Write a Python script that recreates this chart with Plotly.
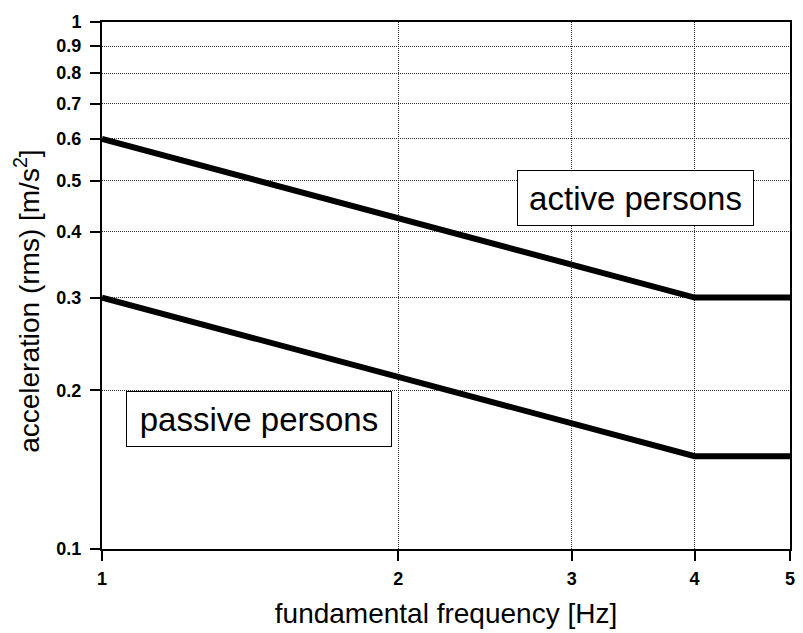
import plotly.graph_objects as go

freq = [1, 4, 5]
active = [0.6, 0.3, 0.3]
passive = [0.3, 0.15, 0.15]
y_ticks = [0.1, 0.2, 0.3, 0.4, 0.5, 0.6, 0.7, 0.8, 0.9, 1]
y_ticktext = ["0.1", "0.2", "0.3", "0.4", "0.5", "0.6", "0.7", "0.8", "0.9", "1"]
x_ticks = [1, 2, 3, 4, 5]
x_ticktext = ["1", "2", "3", "4", "5"]

fig = go.Figure()
for ys in (active, passive):
    fig.add_trace(go.Scatter(x=freq, y=ys, mode="lines",
                             line=dict(color="black", width=6),
                             showlegend=False, hoverinfo="skip"))

annfont = dict(family="Liberation Sans, Arial", size=33, color="black")
fig.add_annotation(text="active persons", xref="paper", yref="paper",
                   x=0.7754, y=0.6655, xanchor="center", yanchor="middle", showarrow=False,
                   font=annfont, width=233, height=52,
                   bordercolor="black", borderwidth=1, borderpad=1, bgcolor="white")
fig.add_annotation(text="passive persons", xref="paper", yref="paper",
                   x=0.2283, y=0.2463, xanchor="center", yanchor="middle", showarrow=False,
                   font=annfont, width=262, height=52,
                   bordercolor="black", borderwidth=1, borderpad=1, bgcolor="white")

tickfont = dict(family="Liberation Sans, Arial", size=18, color="black")
titlefont = dict(family="Liberation Sans, Arial", size=28, color="black")

# y-axis title (placed as rotated text, offset like the original)
fig.add_annotation(text="acceleration (rms) [m/s<sup>2</sup>]", xref="paper", yref="paper",
                   x=0, y=0.469, xanchor="center", yanchor="middle", xshift=-75,
                   textangle=-90, showarrow=False, font=titlefont)

fig.update_xaxes(type="log", range=[0, 0.69897], tickvals=x_ticks,
                 ticktext=["<b>%s</b>" % t for t in x_ticktext],
                 showline=True, linecolor="black", linewidth=2, mirror=True,
                 ticks="outside", ticklen=10, tickwidth=2, tickcolor="black",
                 ticklabelstandoff=2,
                 showgrid=True, gridcolor="#333", gridwidth=1, griddash="1px,1px",
                 tickfont=tickfont, zeroline=False,
                 title=dict(text="fundamental frequency [Hz]", font=titlefont, standoff=16))
fig.update_yaxes(type="log", range=[-1, 0], tickvals=y_ticks,
                 ticktext=["<b>%s</b>" % t for t in y_ticktext],
                 showline=True, linecolor="black", linewidth=2, mirror=True,
                 ticks="outside", ticklen=10, tickwidth=2, tickcolor="black",
                 ticklabelstandoff=5,
                 showgrid=True, gridcolor="#333", gridwidth=1, griddash="1px,1px",
                 tickfont=tickfont, zeroline=False)

fig.update_layout(width=803, height=633, margin=dict(l=102, r=8, t=22, b=84),
                  plot_bgcolor="white", paper_bgcolor="white")

fig.write_html("out.html")
